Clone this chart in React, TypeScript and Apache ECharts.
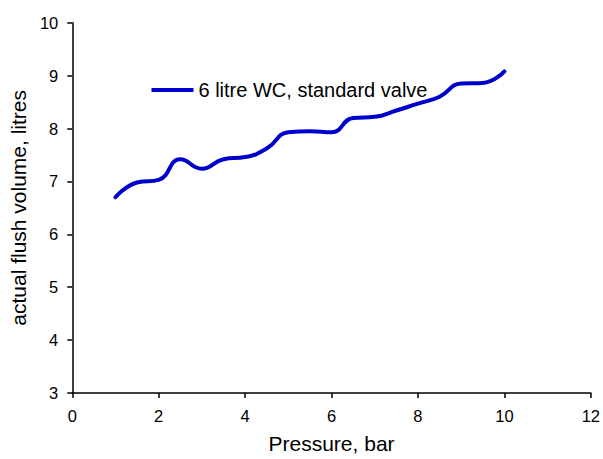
import React, { useEffect, useRef } from "react";
import * as echarts from "echarts";

const seriesName = "6 litre WC, standard valve";
const pressure = [1, 1.5, 2, 2.5, 3, 3.5, 4, 4.5, 5, 5.5, 6, 6.5, 7, 7.5, 8, 8.5, 9, 9.5, 10];
const volume = [6.7, 6.98, 7.03, 7.42, 7.24, 7.42, 7.46, 7.62, 7.93, 7.95, 7.93, 8.2, 8.22, 8.34, 8.47, 8.6, 8.85, 8.86, 9.08];
const xAxisName = "Pressure, bar";
const yAxisName = "actual flush volume, litres";

const FONT = "'Liberation Sans', Arial, Helvetica, sans-serif";

export default function App() {
  const ref = useRef<HTMLDivElement>(null);
  useEffect(() => {
    if (!ref.current) return;
    const chart = echarts.init(ref.current, undefined, { renderer: "svg" });
    const data = pressure.map((p, i) => [p, volume[i]]);
    chart.setOption({
      animation: false,
      backgroundColor: "#ffffff",
      textStyle: { fontFamily: FONT, color: "#000" },
      grid: { left: 69, right: 9.5, top: 22.7, bottom: 61.3, containLabel: false },
      legend: {
        left: 146.5,
        top: 75,
        icon: "rect",
        itemWidth: 42,
        itemHeight: 4,
        textStyle: { fontSize: 20, color: "#000", fontFamily: FONT },
        data: [seriesName],
      },
      xAxis: {
        type: "value",
        min: 0,
        max: 12,
        interval: 2,
        name: xAxisName,
        nameLocation: "middle",
        nameGap: 40,
        nameTextStyle: { fontSize: 21, color: "#000", fontFamily: FONT },
        axisLine: { onZero: false, lineStyle: { color: "#000", width: 1.5 } },
        axisTick: { show: true, length: 5, lineStyle: { color: "#000", width: 1.5 } },
        axisLabel: { fontSize: 16.5, color: "#000", margin: 14, fontFamily: FONT },
        splitLine: { show: false },
      },
      yAxis: {
        type: "value",
        min: 3,
        max: 10,
        interval: 1,
        name: yAxisName,
        nameLocation: "middle",
        nameGap: 42,
        nameTextStyle: { fontSize: 21, color: "#000", fontFamily: FONT },
        axisLine: { show: true, lineStyle: { color: "#000", width: 1.5 } },
        axisTick: { show: true, length: 5, lineStyle: { color: "#000", width: 1.5 } },
        axisLabel: { fontSize: 16.5, color: "#000", margin: 14, fontFamily: FONT },
        splitLine: { show: false },
      },
      series: [
        {
          name: seriesName,
          type: "line",
          data,
          smooth: 0.5,
          showSymbol: false,
          symbol: "none",
          color: "#0000cc",
          lineStyle: { color: "#0000cc", width: 4, cap: "round", join: "round" },
          itemStyle: { color: "#0000cc" },
        },
      ],
    });
    return () => chart.dispose();
  }, []);
  return (
    <div
      ref={ref}
      style={{ position: "fixed", left: 0, top: 0, width: 603, height: 459, background: "#fff" }}
    />
  );
}
